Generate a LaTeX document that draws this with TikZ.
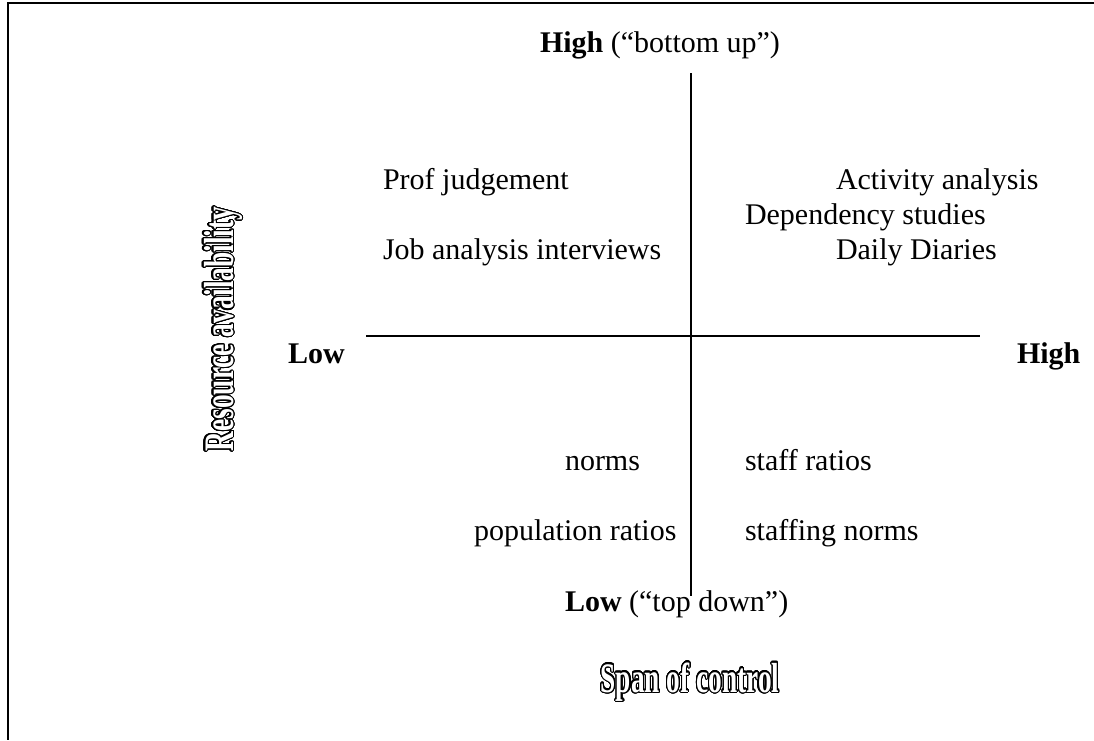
\documentclass[tikz,border=0pt]{standalone}
\usepackage{fontspec}
\setmainfont{Liberation Serif}
\newfontfamily\axisfont[FakeStretch=0.65]{Liberation Serif Bold}
\usepackage{contour}
\contourlength{1.1pt}
\contournumber{32}

\begin{document}
\begin{tikzpicture}[x=1pt, y=-1pt, line cap=butt,
  every node/.append style={inner sep=0pt, outer sep=0pt, font=\fontsize{30}{36}\selectfont},
  item/.style={anchor=base west},
  axislabel/.style={anchor=base, text=white, font=\axisfont\fontsize{42}{50}\selectfont}]
  \useasboundingbox (0,0) rectangle (1094,740);
  % open frame, top and left only
  \draw[line width=2pt] (1094,3) -- (7.7,3) -- (7.7,740);

  % the two axes
  \coordinate (top) at (691,73);    \coordinate (bottom) at (691,596);
  \coordinate (left) at (366,336);  \coordinate (right) at (980,336);
  \draw[line width=1.5pt] (top) -- (bottom);
  \draw[line width=1.5pt] (left) -- (right);

  % ends of the axes
  \node[item] (hightop) at (540,52) {\textbf{High} (“bottom up”)};
  \node[item] (lowbot) at (565,611) {\textbf{Low} (“top down”)};
  \node[item] (lowleft) at (288,363) {\textbf{Low}};
  \node[item] (highright) at (1017,363) {\textbf{High}};

  % upper quadrants
  \node[item] (prof) at (383,189) {Prof judgement};
  \node[item] (jobs) at (383,259) {Job analysis interviews};
  \node[item] (activity) at (836,189) {Activity analysis};
  \node[item] (depend) at (745,224) {Dependency studies};
  \node[item] (diaries) at (836,259) {Daily Diaries};

  % lower quadrants
  \node[item] (norms) at (565,470) {norms};
  \node[item] (popratio) at (474,540) {population ratios};
  \node[item] (staffratio) at (745,470) {staff ratios};
  \node[item] (staffnorms) at (745,540) {staffing norms};

  % axis titles
  \node[axislabel, rotate=90] (resource) at (233,329) {\contour{black}{Resource availability}};
  \node[axislabel] (span) at (690,692) {\contour{black}{Span of control}};
\end{tikzpicture}
\end{document}
